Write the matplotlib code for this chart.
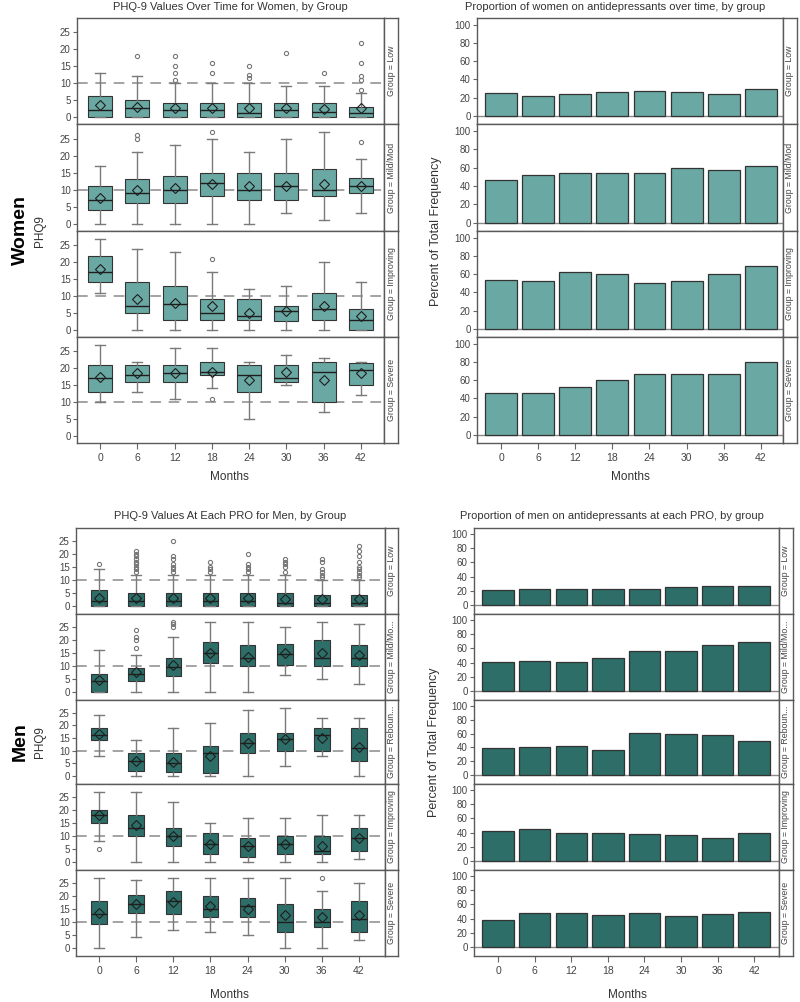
import matplotlib
matplotlib.use("Agg")
import matplotlib.pyplot as plt

plt.rcParams['font.family'] = ['Liberation Sans', 'DejaVu Sans']

months = [0, 6, 12, 18, 24, 30, 36, 42]

# ---- women box plot summaries ----
w_low = dict(lo=[0, 0, 0, 0, 0, 0, 0, 0], q1=[0, 0, 0, 0, 0, 0, 0, 0],
             med=[2, 2.5, 2, 2, 1, 2, 1.5, 1], q3=[6, 5, 4, 4, 4, 4, 4, 3],
             hi=[13, 12, 10, 10, 10, 9, 9, 7], mean=[3.5, 3, 2.5, 2.7, 2.5, 2.5, 2.2, 2.5],
             out=[[], [18], [11, 13, 15, 18], [13, 16], [11.5, 12.5, 15], [19], [13], [8, 11, 12, 16, 22]])
w_mild = dict(lo=[0, 0, 0, 0, 0, 3, 1, 3], q1=[4, 6, 6, 8, 7, 7, 8, 9],
              med=[7, 9, 10, 12, 10, 11, 10, 11], q3=[11, 13, 14, 15, 15, 15, 16, 13.5],
              hi=[17, 21, 23, 25, 21, 25, 27, 19], mean=[7.5, 10, 10.5, 11.5, 11, 11, 11.5, 11],
              out=[[], [25, 26], [], [27], [], [], [], [24]])
w_impr = dict(lo=[11, 0, 0, 0, 0, 0, 0, 0], q1=[14, 5, 3, 3, 3, 2.5, 3, 0],
              med=[17, 7, 7.5, 5, 4, 5.5, 6, 3], q3=[22, 14, 13, 9, 9, 7, 11, 6],
              hi=[27, 24, 23, 17, 12, 13, 20, 14], mean=[18, 9, 8, 7, 5, 5.5, 7, 4],
              out=[[], [], [], [21], [], [], [], []])
w_sev = dict(lo=[10, 13, 11, 14, 5, 15, 7, 12], q1=[13, 16, 16, 18, 13, 16, 10, 15],
             med=[17, 18, 18.5, 19, 18, 17, 19, 19.5], q3=[21, 21, 21, 22, 21, 21, 22, 21.5],
             hi=[27, 22, 26, 26, 22, 24, 23, 22], mean=[17.5, 18.5, 18.5, 19, 16.5, 19, 16.5, 18.5],
             out=[[], [], [], [11], [], [], [], []])

# ---- women % on antidepressants ----
w_pct_low = [25, 22, 24, 26, 27, 26, 24, 29]
w_pct_mild = [47, 52, 54, 54, 54, 60, 57, 62]
w_pct_impr = [54, 52, 62, 60, 50, 53, 60, 69]
w_pct_sev = [46, 46, 53, 60, 67, 67, 67, 80]

# ---- men box plot summaries ----
m_low = dict(lo=[0] * 8, q1=[0] * 8,
             med=[2, 2, 2, 2, 2, 1, 1, 1], q3=[6, 5, 5, 5, 5, 5, 4, 4],
             hi=[14, 12, 12, 12, 12, 12, 10, 10], mean=[3, 3, 3, 3, 3, 2.5, 2.5, 2.5],
             out=[[16], [13, 14, 15, 16, 17, 18, 19, 20, 21], [13, 14, 15, 16, 18, 19, 25],
                  [13, 14, 15, 17], [13, 14, 15, 16, 20], [13, 15, 16, 17, 18],
                  [11, 12, 13, 14, 17, 18], [11, 12, 13, 14, 15, 17, 19, 21, 23]])
m_mild = dict(lo=[0, 0, 0, 0, 0, 6.5, 5, 3], q1=[0, 4, 6, 11, 10, 10.5, 10, 10],
              med=[4, 7, 9.5, 15, 13, 14.5, 13, 13], q3=[7, 9, 13, 19, 18, 18.5, 20, 18],
              hi=[16, 14, 21, 27, 27, 25, 27, 26], mean=[4.5, 7.5, 10.5, 15, 13.5, 15, 15, 14],
              out=[[], [17, 20, 21, 24], [25, 26, 27], [], [], [], [], []])
m_reb = dict(lo=[8, 0, 0, 0, 0, 4, 8, 0], q1=[14, 2, 1.5, 1, 9, 10, 10, 6],
             med=[16, 6, 5, 9, 13, 14.5, 16, 11], q3=[19, 9, 9, 12, 17, 17, 19, 19],
             hi=[24, 14, 19, 21, 26, 27, 23, 23], mean=[16.5, 6, 5.5, 8, 13, 14.5, 15, 11.5],
             out=[[]] * 8)
m_impr = dict(lo=[8, 0, 0, 0, 0, 0, 0, 1], q1=[15, 10, 6, 3, 2, 3, 3, 4],
              med=[18, 13, 10, 7, 6, 7, 4, 9], q3=[20, 18, 13, 11, 9, 10, 10, 13],
              hi=[27, 27, 23, 15, 17, 17, 18, 18], mean=[18, 14, 10, 7, 6, 7, 6, 9],
              out=[[5], [], [], [], [], [], [], []])
m_sev = dict(lo=[0, 4, 7, 6, 5, 0, 0, 3], q1=[9, 13.5, 13, 12, 12, 6, 8, 6],
             med=[13, 17, 18, 15, 16, 10, 10, 11], q3=[18, 20.5, 22, 20, 19, 17, 15, 18],
             hi=[27, 26, 27, 27, 27, 27, 22, 25], mean=[13.5, 17, 17.5, 16, 15, 12.5, 12, 12.5],
             out=[[], [], [], [], [], [], [27], []])

# ---- men % on antidepressants ----
m_pct_low = [21, 22, 22, 22, 23, 26, 27, 27]
m_pct_mild = [41, 42, 41, 46, 57, 56, 65, 69]
m_pct_reb = [39, 41, 42, 36, 61, 60, 58, 50]
m_pct_impr = [42, 45, 39.5, 39.5, 38, 36, 33, 39.5]
m_pct_sev = [38, 48.5, 48.5, 45, 48, 44, 46, 49.5]

w_groups = ['Group = Low', 'Group = Mild/Mod', 'Group = Improving', 'Group = Severe']
m_groups = ['Group = Low', 'Group = Mild/Mo...', 'Group = Reboun...', 'Group = Improving', 'Group = Severe']

W_COLOR = '#6aa8a3'
M_COLOR = '#2d6e68'
EDGE = '#333333'
FRAME = '#5a5a5a'
TXT = '#333333'

W, H = 800, 1002
fig = plt.figure(figsize=(W / 100, H / 100), dpi=100)


def px_axes(x0, y0, x1, y1):
    return fig.add_axes([x0 / W, 1 - y1 / H, (x1 - x0) / W, (y1 - y0) / H])


def style(ax, bottom):
    for s in ax.spines.values():
        s.set_color(FRAME)
        s.set_linewidth(1.0)
    ax.tick_params(axis='y', length=3, width=0.8, color='#666', labelsize=7, labelcolor='#444', pad=1.5)
    if bottom:
        ax.set_xticks(range(len(months)))
        ax.set_xticklabels(months)
        ax.tick_params(axis='x', length=4, width=0.8, color='#666', labelsize=7.5, labelcolor='#444', pad=3)
    else:
        ax.set_xticks([])


def strip(x0, y0, x1, y1, label):
    s = px_axes(x0, y0, x1, y1)
    s.set_xticks([])
    s.set_yticks([])
    for sp in s.spines.values():
        sp.set_color(FRAME)
        sp.set_linewidth(1.0)
    s.text(0.5, 0.5, label, rotation=90, ha='center', va='center', fontsize=6.3,
           color='#444', transform=s.transAxes, clip_on=True)


def box_panel(ax, p, color, width, ylim, xlim):
    stats = []
    for i in range(len(months)):
        stats.append(dict(whislo=p['lo'][i], q1=p['q1'][i], med=p['med'][i], q3=p['q3'][i],
                          whishi=p['hi'][i], mean=p['mean'][i], fliers=p['out'][i]))
    ax.axhline(10, color='#8a8a8a', lw=1.1, dashes=(7, 5), zorder=1)
    ax.bxp(stats, positions=range(len(months)), widths=width, capwidths=0.27,
           patch_artist=True, showmeans=True, showfliers=True, zorder=2,
           boxprops=dict(facecolor=color, edgecolor=EDGE, linewidth=0.8),
           medianprops=dict(color='#1e1e1e', linewidth=1.0),
           whiskerprops=dict(color='#7a7a7a', linewidth=1.0),
           capprops=dict(color='#7a7a7a', linewidth=1.0),
           meanprops=dict(marker='D', markerfacecolor='none', markeredgecolor='#1e1e1e',
                          markeredgewidth=0.8, markersize=5),
           flierprops=dict(marker='o', markerfacecolor='none', markeredgecolor='#777',
                           markeredgewidth=0.8, markersize=3))
    ax.set_ylim(*ylim)
    ax.set_xlim(*xlim)
    ax.set_yticks([0, 5, 10, 15, 20, 25])


def bar_panel(ax, vals, color, ylim, xlim):
    ax.axhline(0, color='#8a8a8a', lw=1.0, zorder=1)
    ax.bar(range(len(months)), vals, width=0.86, color=color, edgecolor=EDGE, linewidth=0.9, zorder=2)
    ax.set_ylim(*ylim)
    ax.set_xlim(*xlim)
    ax.set_yticks([0, 20, 40, 60, 80, 100])


# ---- women ----
w_rows = [18, 124, 231, 337, 443]
w_box = [w_low, w_mild, w_impr, w_sev]
w_bar = [w_pct_low, w_pct_mild, w_pct_impr, w_pct_sev]
for i in range(4):
    y0, y1 = w_rows[i], w_rows[i + 1]
    last = i == 3
    ax = px_axes(77, y0, 384, y1)
    box_panel(ax, w_box[i], W_COLOR, 0.65, (-2.2, 29.3), (-0.62, 7.62))
    style(ax, last)
    strip(384, y0, 398, y1, w_groups[i])
    ax = px_axes(477, y0, 783, y1)
    bar_panel(ax, w_bar[i], W_COLOR, (-8.8, 107.3), (-0.65, 7.6))
    style(ax, last)
    strip(783, y0, 797, y1, w_groups[i])

# ---- men ----
m_rows = [528, 614, 700, 784, 870, 956]
m_box = [m_low, m_mild, m_reb, m_impr, m_sev]
m_bar = [m_pct_low, m_pct_mild, m_pct_reb, m_pct_impr, m_pct_sev]
for i in range(5):
    y0, y1 = m_rows[i], m_rows[i + 1]
    last = i == 4
    ax = px_axes(76, y0, 385, y1)
    box_panel(ax, m_box[i], M_COLOR, 0.42, (-3.2, 30.0), (-0.62, 7.7))
    style(ax, last)
    strip(385, y0, 398, y1, m_groups[i])
    ax = px_axes(474, y0, 779, y1)
    bar_panel(ax, m_bar[i], M_COLOR, (-12.7, 108.5), (-0.66, 7.68))
    style(ax, last)
    strip(779, y0, 793, y1, m_groups[i])


# ---- titles and labels ----
def ftext(x, y, s, color=TXT, **kw):
    fig.text(x / W, 1 - y / H, s, ha='center', va='center', color=color, **kw)


ftext(230, 7, 'PHQ-9 Values Over Time for Women, by Group', fontsize=8)
ftext(615, 7, 'Proportion of women on antidepressants over time, by group', fontsize=8)
ftext(230, 516, 'PHQ-9 Values At Each PRO for Men, by Group', fontsize=8)
ftext(612, 516, 'Proportion of men on antidepressants at each PRO, by group', fontsize=8)

ftext(229, 477, 'Months', fontsize=8.5)
ftext(630, 477, 'Months', fontsize=8.5)
ftext(229, 995, 'Months', fontsize=8.5)
ftext(627, 995, 'Months', fontsize=8.5)

ftext(40, 231, 'PHQ9', fontsize=8.5, rotation=90)
ftext(40, 742, 'PHQ9', fontsize=8.5, rotation=90)
ftext(436, 231, 'Percent of Total Frequency', fontsize=9, rotation=90)
ftext(434, 742, 'Percent of Total Frequency', fontsize=9, rotation=90)

ftext(20, 230, 'Women', fontsize=14, fontweight='bold', rotation=90, color='black')
ftext(20, 742, 'Men', fontsize=14, fontweight='bold', rotation=90, color='black')

fig.savefig('out.png', dpi=100)
